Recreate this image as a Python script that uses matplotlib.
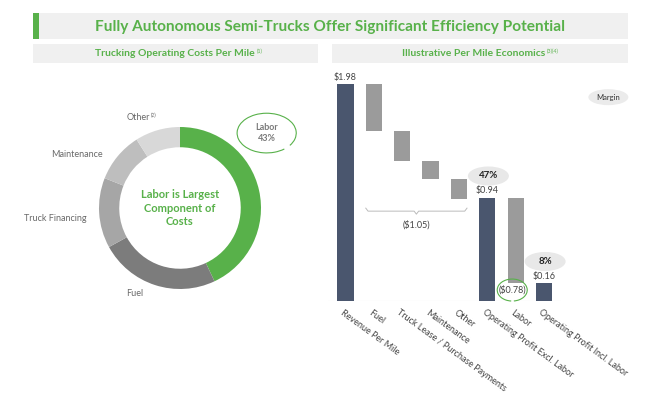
import matplotlib
matplotlib.use('Agg')
import matplotlib.pyplot as plt
from matplotlib.patches import Rectangle, Ellipse, Arc


#########################
#         Data          #
#########################

cost_labels = ['Labor', 'Fuel', 'Truck Financing', 'Maintenance', 'Other']
cost_share = [43, 24, 14, 10, 9]

step_labels = ['Revenue Per Mile', 'Fuel', 'Truck Lease / Purchase Payments',
               'Maintenance', 'Other', 'Operating Profit Excl. Labor',
               'Labor', 'Operating Profit Incl. Labor']
step_values = [1.98, -0.43, -0.27, -0.17, -0.18, 0.94, -0.78, 0.16]
step_kind = ['total', 'delta', 'delta', 'delta', 'delta', 'total', 'delta', 'total']


#########################
#        Styling        #
#########################

GREEN = '#58b14a'
NAVY = '#4a566e'
BAR_GRAY = '#9b9b9b'
BOX_GRAY = '#f0f0f0'
TXT = '#444444'
plt.rcParams['font.family'] = ['Lato', 'DejaVu Sans']

W, H = 656, 397
fig = plt.figure(figsize=(W / 100, H / 100), dpi=100)


def fx(px):
    return px / W


def fy(py):
    return 1 - py / H


# header boxes, drawn in pixel space
bg = fig.add_axes([0, 0, 1, 1], zorder=0)
bg.set_xlim(0, W)
bg.set_ylim(H, 0)
bg.axis('off')
bg.add_patch(Rectangle((33, 13), 595, 26, color=BOX_GRAY, lw=0))
bg.add_patch(Rectangle((33, 13), 6, 26, color=GREEN, lw=0))
bg.add_patch(Rectangle((33, 44), 285, 19, color=BOX_GRAY, lw=0))
bg.add_patch(Rectangle((332, 44), 296, 19, color=BOX_GRAY, lw=0))
bg.text(330, 26.5, 'Fully Autonomous Semi-Trucks Offer Significant Efficiency Potential',
        ha='center', va='center', fontsize=11.1, fontweight='bold', color=GREEN)
t1 = bg.text(175, 53.5, 'Trucking Operating Costs Per Mile', ha='center', va='center',
             fontsize=7.5, fontweight='bold', color=GREEN)
bg.annotate('(1)', xy=(1, 1), xycoords=t1, xytext=(1, 0), textcoords='offset points',
            ha='left', va='top', fontsize=4, color=GREEN)
t2 = bg.text(474, 53.5, 'Illustrative Per Mile Economics', ha='center', va='center',
             fontsize=7.5, fontweight='bold', color=GREEN)
bg.annotate('(3)(4)', xy=(1, 1), xycoords=t2, xytext=(1, 0), textcoords='offset points',
            ha='left', va='top', fontsize=4, color=GREEN)


#########################
#         Donut         #
#########################

ax1 = fig.add_axes([fx(99), fy(289), 162 / W, 162 / H])
donut_colors = [GREEN, '#7c7c7c', '#a6a6a6', '#bebebe', '#d8d8d8']
ax1.pie(cost_share, colors=donut_colors, startangle=90, counterclock=False,
        wedgeprops=dict(width=0.25, linewidth=0))
ax1.set_xlim(-1, 1)
ax1.set_ylim(-1, 1)
ax1.axis('off')

ax1.text(0, 0, 'Labor is Largest\nComponent of\nCosts', ha='center', va='center',
         fontsize=8, fontweight='bold', color=GREEN, linespacing=1.25)

lab_kw = dict(fontsize=6.5, color='#6a6a6a', va='center', clip_on=False)
t_other = ax1.text(-0.655, 1.12, cost_labels[4], ha='left', **lab_kw)
ax1.annotate('(2)', xy=(1, 1), xycoords=t_other, xytext=(0.5, 0), textcoords='offset points',
             ha='left', va='top', fontsize=3.5, color='#6a6a6a')
ax1.text(-0.95, 0.665, cost_labels[3], ha='right', **lab_kw)
ax1.text(-1.15, -0.135, cost_labels[2], ha='right', **lab_kw)
ax1.text(-0.66, -1.05, cost_labels[1], ha='left', **lab_kw)

# labor callout
ax1.add_patch(Arc((1.07, 0.925), 0.73, 0.49, theta1=-28, theta2=318,
                  color=GREEN, lw=0.8, clip_on=False))
ax1.text(1.07, 0.925, '%s\n%d%%' % (cost_labels[0], cost_share[0]), ha='center', va='center',
         fontsize=6.5, color='#7a7a7a', fontweight='bold', linespacing=1.3, clip_on=False)


#########################
#       Waterfall       #
#########################

ax2 = fig.add_axes([fx(328), fy(301), 233 / W, 231 / H])
xlo, xhi, ytop = -0.617, 7.6, 2.108
ax2.set_xlim(xlo, xhi)
ax2.set_ylim(0, ytop)
ax2.axis('off')
sx = 233 / (xhi - xlo)   # px per x unit
sy = 231 / ytop          # px per $

bw = 0.57
running = 0
bottoms, heights = [], []
for v, k in zip(step_values, step_kind):
    if k == 'total':
        bottoms.append(0)
        heights.append(v)
        running = v
    else:
        bottoms.append(running + v)
        heights.append(-v)
        running = running + v
cols = [NAVY if k == 'total' else BAR_GRAY for k in step_kind]
xs = list(range(len(step_values)))
ax2.bar(xs, heights, bottom=bottoms, width=bw, color=cols, linewidth=0, zorder=2)
ax2.axhline(0, color='#e6e6e6', lw=0.8, zorder=1)

for i, lab in enumerate(step_labels):
    ax2.text(i - 0.05, -7 / sy, lab, rotation=-36, rotation_mode='anchor', ha='left', va='top',
             fontsize=6.5, color=TXT, clip_on=False)

# value labels on the totals
for i, k in enumerate(step_kind):
    if k == 'total':
        ax2.text(i, step_values[i] + 2.5 / sy, '$%.2f' % step_values[i], ha='center', va='bottom',
                 fontsize=6.5, color=TXT)

# labor deduction circled below its bar
li = 6
ax2.text(li - 0.12, 0.10, '($%.2f)' % -step_values[li], ha='center', va='center',
         fontsize=6.5, color=TXT, zorder=4)
ax2.add_patch(Arc((li - 0.12, 0.10), 30 / sx, 22 / sy, theta1=-60, theta2=250,
                  color=GREEN, lw=0.8, zorder=4, clip_on=False))

# margin bubbles
rev = step_values[0]
for i in (5, 7):
    cy = step_values[i] + 22 / sy
    ax2.add_patch(Ellipse((i + 0.04, cy), 41 / sx, 19 / sy, color='#e8e8e8', lw=0, zorder=3,
                          clip_on=False))
    ax2.text(i + 0.04, cy, '%d%%' % round(100 * step_values[i] / rev), ha='center', va='center',
             fontsize=7, fontweight='bold', color='#222222', zorder=4)
ax2.add_patch(Ellipse((9.27, 1.86), 40 / sx, 16 / sy, color='#ebebeb', lw=0, clip_on=False))
ax2.text(9.27, 1.86, 'Margin', ha='center', va='center', fontsize=5.5, color='#333333',
         clip_on=False)

# brace under the cost steps
opex = sum(step_values[1:5])
bx0, bx1 = 1 - bw / 2, 4 + bw / 2
by = 0.82
bm = (bx0 + bx1) / 2
d = 3 / sy
ax2.plot([bx0, bx0 + 0.08, bm - 0.08, bm, bm + 0.08, bx1 - 0.08, bx1],
         [by + d, by, by, by - d, by, by, by + d], color='#bbbbbb', lw=0.7)
ax2.text(bm, by - 14 / sy, '($%.2f)' % -opex, ha='center', va='center', fontsize=6.5, color=TXT)

fig.savefig('out.png', dpi=100)
